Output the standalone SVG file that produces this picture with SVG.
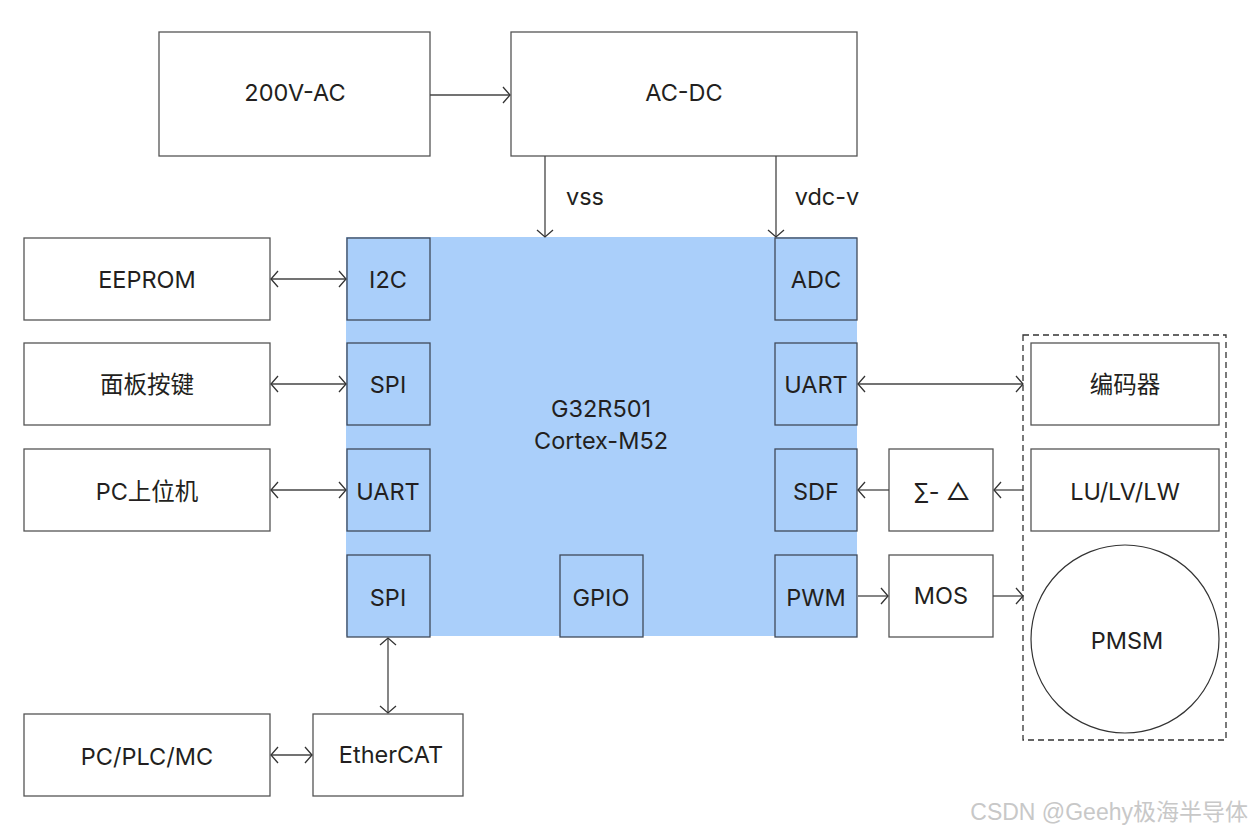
<svg xmlns="http://www.w3.org/2000/svg" width="1251" height="834" viewBox="0 0 1251 834">
<style>
.box{fill:#fff;stroke:#555;stroke-width:1.3}
.chip{fill:#aacffa;stroke:#3f4a5a;stroke-width:1.3}
.t{font-family:Inter,"Noto Sans","Noto Sans CJK SC",sans-serif;font-size:23.5px;fill:#231f20;text-anchor:middle;dominant-baseline:central}
.c{fill:none;stroke:#444;stroke-width:1.3}
</style>
<defs>
<marker id="a" viewBox="-10 -10 20 20" markerWidth="20" markerHeight="20" refX="0" refY="0" orient="auto-start-reverse" markerUnits="userSpaceOnUse">
<path d="M-7,-8 L0,0 L-7,8" fill="none" stroke="#333" stroke-width="1.3"/>
</marker>
</defs>
<rect width="1251" height="834" fill="#fff"/>
<g id="mcu">
<rect x="346" y="237" width="511" height="399" fill="#aacffa"/>
<text class="t" x="601" y="408" font-size="26">G32R501</text>
<text class="t" x="601" y="440" font-size="26">Cortex-M52</text>
</g>
<g id="i2c"><rect class="chip" x="347" y="238" width="83" height="82"/><text class="t" x="388" y="279">I2C</text></g>
<g id="spi1"><rect class="chip" x="347" y="343" width="83" height="82"/><text class="t" x="388" y="384">SPI</text></g>
<g id="uart1"><rect class="chip" x="347" y="449" width="83" height="82"/><text class="t" x="388" y="491">UART</text></g>
<g id="spi2"><rect class="chip" x="347" y="555" width="83" height="82"/><text class="t" x="388" y="597">SPI</text></g>
<g id="gpio"><rect class="chip" x="560" y="555" width="83" height="82"/><text class="t" x="601" y="597">GPIO</text></g>
<g id="adc"><rect class="chip" x="775" y="238" width="82" height="82"/><text class="t" x="816" y="279">ADC</text></g>
<g id="uart2"><rect class="chip" x="775" y="343" width="82" height="82"/><text class="t" x="816" y="384">UART</text></g>
<g id="sdf"><rect class="chip" x="775" y="449" width="82" height="82"/><text class="t" x="816" y="491">SDF</text></g>
<g id="pwm"><rect class="chip" x="775" y="555" width="82" height="82"/><text class="t" x="816" y="597">PWM</text></g>
<g id="ac200"><rect class="box" x="159" y="32" width="271" height="124"/><text class="t" x="295" y="92">200V-AC</text></g>
<g id="acdc"><rect class="box" x="511" y="32" width="346" height="124"/><text class="t" x="684" y="92">AC-DC</text></g>
<g id="eeprom"><rect class="box" x="24" y="238" width="246" height="82"/><text class="t" x="147" y="279">EEPROM</text></g>
<g id="panel"><rect class="box" x="24" y="343" width="246" height="82"/><text class="t" x="147" y="384">面板按键</text></g>
<g id="pc"><rect class="box" x="24" y="449" width="246" height="82"/><text class="t" x="147" y="491">PC上位机</text></g>
<g id="plc"><rect class="box" x="24" y="714" width="246" height="82"/><text class="t" x="147" y="756">PC/PLC/MC</text></g>
<g id="ethercat"><rect class="box" x="313" y="714" width="150" height="82"/><text class="t" x="391" y="754">EtherCAT</text></g>
<g id="sigma"><rect class="box" x="889" y="449" width="104" height="82"/><text class="t" x="942" y="491">∑- △</text></g>
<g id="mos"><rect class="box" x="889" y="555" width="104" height="82"/><text class="t" x="941" y="595">MOS</text></g>
<g id="motor">
<rect x="1023" y="335" width="203" height="405" fill="none" stroke="#333" stroke-width="1.3" stroke-dasharray="6,4"/>
</g>
<g id="encoder"><rect class="box" x="1031" y="343" width="188" height="82"/><text class="t" x="1125" y="384">编码器</text></g>
<g id="luvw"><rect class="box" x="1031" y="449" width="188" height="82"/><text class="t" x="1125" y="491">LU/LV/LW</text></g>
<g id="pmsm"><circle cx="1125" cy="639" r="94" fill="#fff" stroke="#333" stroke-width="1.2"/><text class="t" x="1127" y="640" font-size="26">PMSM</text></g>
<g id="connectors">
<line class="c" x1="430" y1="95" x2="510" y2="95" marker-end="url(#a)"/>
<line class="c" x1="545" y1="156" x2="545" y2="237" marker-end="url(#a)"/>
<line class="c" x1="776" y1="156" x2="776" y2="237" marker-end="url(#a)"/>
<line class="c" x1="271" y1="279" x2="346" y2="279" marker-start="url(#a)" marker-end="url(#a)"/>
<line class="c" x1="271" y1="384" x2="346" y2="384" marker-start="url(#a)" marker-end="url(#a)"/>
<line class="c" x1="271" y1="490" x2="346" y2="490" marker-start="url(#a)" marker-end="url(#a)"/>
<line class="c" x1="388" y1="638" x2="388" y2="713" marker-start="url(#a)" marker-end="url(#a)"/>
<line class="c" x1="271" y1="755" x2="312" y2="755" marker-start="url(#a)" marker-end="url(#a)"/>
<line class="c" x1="858" y1="384" x2="1023" y2="384" marker-start="url(#a)" marker-end="url(#a)"/>
<line class="c" x1="1023" y1="490" x2="994" y2="490" marker-end="url(#a)"/>
<line class="c" x1="889" y1="490" x2="858" y2="490" marker-end="url(#a)"/>
<line class="c" x1="858" y1="596" x2="888" y2="596" marker-end="url(#a)"/>
<line class="c" x1="993" y1="596" x2="1023" y2="596" marker-end="url(#a)"/>
<text class="t" x="585" y="196" font-size="22">vss</text>
<text class="t" x="827" y="196" font-size="23">vdc-v</text>
</g>
<text x="1248" y="812" font-family="'Liberation Sans','Noto Sans CJK SC',sans-serif" font-size="23" fill="#c8c8c8" text-anchor="end" dominant-baseline="central">CSDN @Geehy极海半导体</text>
</svg>
